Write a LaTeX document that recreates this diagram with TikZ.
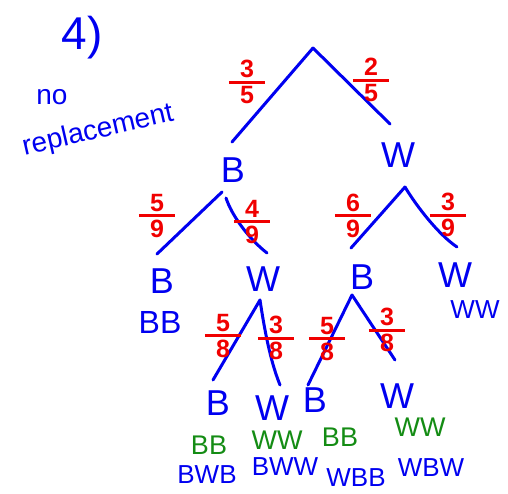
\documentclass[tikz,border=0pt]{standalone}
\usepackage{fontspec}
\usepackage{amsmath}
\setmainfont{Liberation Sans}
\definecolor{pblue}{RGB}{0,0,240}
\definecolor{pred}{RGB}{240,0,0}
\definecolor{pgreen}{RGB}{20,140,20}
\newcommand\fr[2]{$\genfrac{}{}{3pt}{1}{\hbox{\hspace{0.45em}#1\hspace{0.45em}}}{\hbox{#2}}$}
\begin{document}
\begin{tikzpicture}[x=1pt,y=-1pt,
 br/.style={pblue,line width=3pt,line cap=round},
 lt/.style={pblue,font=\fontsize{36}{36}\selectfont,inner sep=0pt},
 frac/.style={pred,font=\fontsize{25}{25}\selectfont\bfseries,inner sep=0pt},
 gs/.style={pgreen,font=\fontsize{27}{27}\selectfont,inner sep=0pt},
 bs/.style={pblue,font=\fontsize{26}{26}\selectfont,inner sep=0pt},
 note/.style={pblue,inner sep=0pt}]
\useasboundingbox (0,0) rectangle (508,494);
% title and note
\node[note,font=\fontsize{46}{46}\selectfont] (title) at (82,38) {4)};
\node[note,font=\fontsize{28}{28}\selectfont] (no) at (52,97) {no};
\node[note,font=\fontsize{28}{28}\selectfont,rotate=13] (repl) at (98,131) {replacement};
% branch points
\coordinate (rt) at (313,48);
\coordinate (l1a) at (232,142);
\coordinate (r1a) at (390,124);
\coordinate (b1l) at (222,192);
\coordinate (b1r) at (226,198);
\coordinate (bbE) at (157,254);
\coordinate (bwE) at (267,253);
\coordinate (w1a) at (405,187);
\coordinate (wbE) at (351,248);
\coordinate (wwE) at (457,247);
\coordinate (w2a) at (260,300);
\coordinate (w2l) at (213,380);
\coordinate (w2r) at (280,385);
\coordinate (b3a) at (352,295);
\coordinate (b3l) at (308,385);
\coordinate (b3r) at (395,360);
% branches
\draw[br] (rt) -- (l1a);
\draw[br] (rt) -- (r1a);
\draw[br] (b1l) -- (bbE);
\draw[br] (b1r) .. controls +(6,18) and +(-18,-14) .. (bwE);
\draw[br] (w1a) -- (wbE);
\draw[br] (w1a) .. controls +(12,20) and +(-18,-12) .. (wwE);
\draw[br] (w2a) -- (w2l);
\draw[br] (w2a) .. controls +(6,40) and +(-8,-20) .. (w2r);
\draw[br] (b3a) -- (b3l);
\draw[br] (b3a) -- (b3r);
% outcome letters
\node[lt] (B1) at (233,170) {B};
\node[lt] (W1) at (398,155) {W};
\node[lt] (B2) at (162,281) {B};
\node[lt] (W2) at (263,279) {W};
\node[lt] (B3) at (362,277) {B};
\node[lt] (W3) at (455,275) {W};
\node[lt] (B4) at (218,403) {B};
\node[lt] (W4) at (272,408) {W};
\node[lt] (B5) at (315,400) {B};
\node[lt] (W5) at (397,396) {W};
% probabilities
\node[frac] (p1) at (247,82) {\fr{3}{5}};
\node[frac] (p2) at (371,80) {\fr{2}{5}};
\node[frac] (p3) at (157,216) {\fr{5}{9}};
\node[frac] (p4) at (252,222) {\fr{4}{9}};
\node[frac] (p5) at (353,216) {\fr{6}{9}};
\node[frac] (p6) at (448,215) {\fr{3}{9}};
\node[frac] (p7) at (223,336) {\fr{5}{8}};
\node[frac] (p8) at (276,338) {\fr{3}{8}};
\node[frac] (p9) at (327,339) {\fr{5}{8}};
\node[frac] (p10) at (387,330) {\fr{3}{8}};
% combos
\node[bs,font=\fontsize{32}{32}\selectfont] (cBB) at (160,322) {BB};
\node[bs] (cWW) at (475,310) {WW};
\node[gs] (g1) at (209,445) {BB};
\node[gs] (g2) at (277,440) {WW};
\node[gs] (g3) at (340,437) {BB};
\node[gs] (g4) at (420,427) {WW};
\node[bs] (s1) at (207,475) {BWB};
\node[bs] (s2) at (285,467) {BWW};
\node[bs] (s3) at (356,478) {WBB};
\node[bs] (s4) at (431,468) {WBW};
\end{tikzpicture}
\end{document}
